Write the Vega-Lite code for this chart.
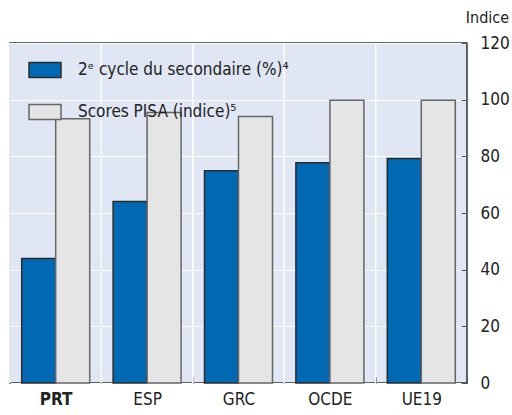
{
  "$schema": "https://vega.github.io/schema/vega-lite/v6.json",
  "width": 457,
  "height": 340,
  "autosize": "none",
  "padding": {"left": 10, "top": 43, "right": 45, "bottom": 32},
  "background": "white",
  "config": {
    "font": "DejaVu Sans Condensed, Roboto, sans-serif",
    "view": {"fill": "#e0e6f4", "stroke": "#333333", "strokeWidth": 1.5}
  },
  "data": {
    "values": [
      {"pays": "PRT", "serie": "2ᵉ cycle du secondaire (%)⁴", "valeur": 43.9},
      {"pays": "PRT", "serie": "Scores PISA (indice)⁵", "valeur": 93.3},
      {"pays": "ESP", "serie": "2ᵉ cycle du secondaire (%)⁴", "valeur": 64.1},
      {"pays": "ESP", "serie": "Scores PISA (indice)⁵", "valeur": 95.5},
      {"pays": "GRC", "serie": "2ᵉ cycle du secondaire (%)⁴", "valeur": 74.9},
      {"pays": "GRC", "serie": "Scores PISA (indice)⁵", "valeur": 94.1},
      {"pays": "OCDE", "serie": "2ᵉ cycle du secondaire (%)⁴", "valeur": 77.7},
      {"pays": "OCDE", "serie": "Scores PISA (indice)⁵", "valeur": 99.8},
      {"pays": "UE19", "serie": "2ᵉ cycle du secondaire (%)⁴", "valeur": 79.2},
      {"pays": "UE19", "serie": "Scores PISA (indice)⁵", "valeur": 99.8}
    ]
  },
  "resolve": {"scale": {"x": "independent"}, "axis": {"x": "independent"}},
  "layer": [
    {
      "mark": {"type": "rule", "color": "white", "strokeWidth": 1.2},
      "encoding": {
        "x": {
          "field": "pays",
          "type": "nominal",
          "sort": ["PRT", "ESP", "GRC", "OCDE", "UE19"],
          "scale": {"type": "point", "padding": 0.5, "align": 0},
          "axis": null
        }
      }
    },
    {
      "mark": {"type": "bar", "strokeWidth": 1.5},
      "encoding": {
        "x": {
          "field": "pays",
          "type": "nominal",
          "sort": ["PRT", "ESP", "GRC", "OCDE", "UE19"],
          "scale": {"paddingInner": 0, "paddingOuter": 0},
          "axis": {
            "title": null,
            "tickBand": "extent",
            "labelAngle": 0,
            "labelFontSize": 17,
            "labelColor": "#222222",
            "labelFontWeight": {"condition": {"test": "datum.value === 'PRT'", "value": "bold"}, "value": "normal"},
            "labelPadding": 14,
            "tickSize": -6,
            "tickColor": "#555555",
            "tickWidth": 1,
            "domain": false,
            "grid": false
          }
        },
        "xOffset": {
          "field": "serie",
          "type": "nominal",
          "scale": {"paddingInner": 0, "paddingOuter": 0.344}
        },
        "y": {
          "field": "valeur",
          "type": "quantitative",
          "scale": {"domain": [0, 120], "nice": false},
          "axis": {
            "orient": "right",
            "values": [0, 20, 40, 60, 80, 100, 120],
            "title": "Indice",
            "titleAngle": 0,
            "titleX": 20,
            "titleY": -18,
            "titleAlign": "center",
            "titleBaseline": "bottom",
            "titleFontSize": 16,
            "titleFontWeight": "normal",
            "titleColor": "#222222",
            "labelFontSize": 17,
            "labelColor": "#222222",
            "labelAlign": "left",
            "labelPadding": 19,
            "tickSize": -6,
            "tickColor": "#555555",
            "domain": false,
            "grid": true,
            "gridColor": "white",
            "gridWidth": 1.2
          }
        },
        "fill": {
          "field": "serie",
          "type": "nominal",
          "scale": {"range": ["#0069b4", "#e5e5e5"]},
          "legend": {
            "title": null,
            "orient": "none",
            "legendX": 18,
            "legendY": 10,
            "symbolType": "M-1,-0.47H1V0.47H-1Z",
            "symbolSize": 1024,
            "symbolStrokeWidth": 1.5,
            "labelFontSize": 17,
            "labelColor": "#222222",
            "labelOffset": 16,
            "rowPadding": 14,
            "labelLimit": 400
          }
        },
        "stroke": {
          "field": "serie",
          "type": "nominal",
          "scale": {"range": ["#2b2b2b", "#666666"]}
        }
      }
    }
  ]
}
